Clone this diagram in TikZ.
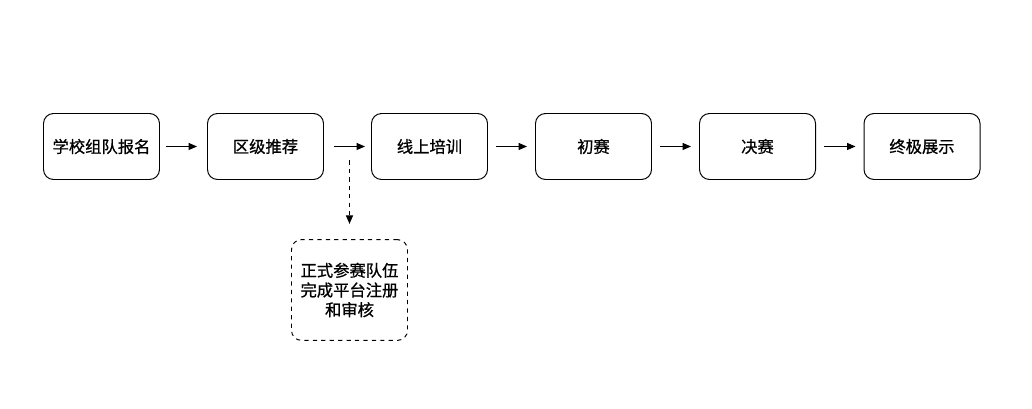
\documentclass[tikz,border=0pt]{standalone}
\usepackage{fontspec}
\setmainfont{Noto Sans CJK SC}
\newfontfamily\cjkmid{Noto Sans CJK SC}[FakeBold=0.8]
\usepackage{tikz}
\usetikzlibrary{shapes,arrows,positioning,calc,arrows.meta}

\tikzset{
    stagebox/.style={draw, rounded corners=0.25cm, line width=0.7pt,
        minimum width=2.9cm, minimum height=1.65cm, align=center,
        font=\cjkmid\fontsize{11.6}{14}\selectfont},
    flow/.style={-{Triangle[length=6pt,width=5pt]}, line width=0.7pt}
}

\begin{document}
\begin{tikzpicture}
        \useasboundingbox (0,0) rectangle (25.8,-10.225);

        % main stages
        \node[stagebox] (signup) at (2.5375,-3.6625) {学校组队报名};
        \node[stagebox] (recommend) at (6.6375,-3.6625) {区级推荐};
        \node[stagebox] (training) at (10.7375,-3.6625) {线上培训};
        \node[stagebox] (prelim) at (14.8375,-3.6625) {初赛};
        \node[stagebox] (final) at (18.9375,-3.6625) {决赛};
        \node[stagebox] (show) at (23.05,-3.6625) {终极展示};

        % side branch
        \node[stagebox, dashed, minimum height=2.52cm] (register) at (8.7375,-7.25)
            {正式参赛队伍\\完成平台注册\\和审核};

        \draw[flow, shorten <=0.15cm, shorten >=0.25cm] (signup) -- (recommend);
        \draw[flow, shorten <=0.25cm, shorten >=0.15cm] (recommend) -- (training);
        \draw[flow, shorten <=0.2cm, shorten >=0.2cm] (training) -- (prelim);
        \draw[flow, shorten <=0.2cm, shorten >=0.2cm] (prelim) -- (final);
        \draw[flow, shorten <=0.2cm, shorten >=0.2cm] (final) -- (show);

        \coordinate (split) at ($(recommend.east)!0.5!(training.west)+(0.05,-0.35)$);
        \draw[flow, dashed, shorten >=0.38cm] (split) -- (split |- register.north);
    \end{tikzpicture}
\end{document}
